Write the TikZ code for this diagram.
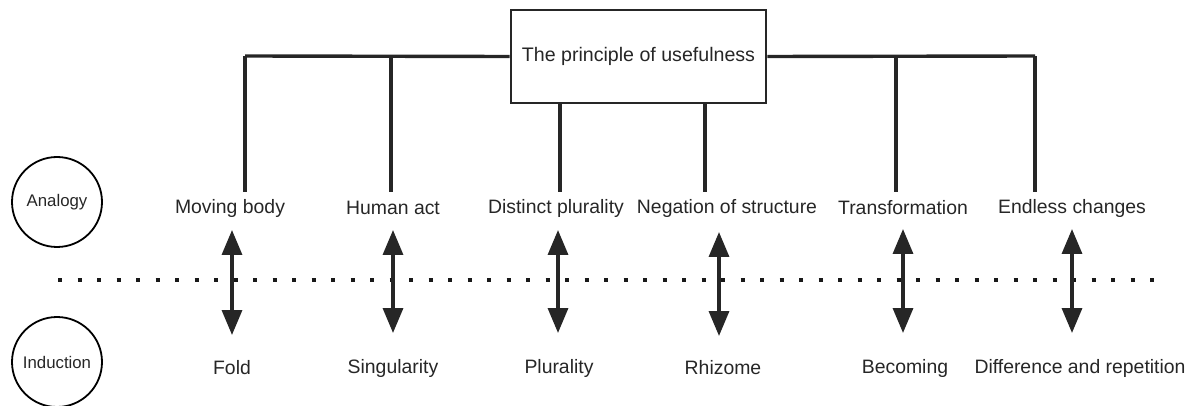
\documentclass[tikz,border=0pt]{standalone}
\usepackage{fontspec}
\setmainfont{Liberation Sans}
\usetikzlibrary{arrows.meta}
\begin{document}
\begin{tikzpicture}[x=1pt,y=-1pt,
  lbl/.style={font=\fontsize{19.4}{23}\selectfont, inner sep=0pt, text=black!85},
  circ/.style={draw, circle, line width=1.8pt, minimum size=90pt, inner sep=0pt, font=\fontsize{16.8}{20}\selectfont, text=black!85},
  conn/.style={line width=3.4pt, draw=black!85},
  dbl/.style={line width=3.4pt, draw=black!85, {Triangle[width=20pt,length=25pt]}-{Triangle[width=20pt,length=25pt]}},
  dots/.style={line width=4pt, dash pattern=on 4pt off 15.5pt, draw=black!90}]
\useasboundingbox (0,0) rectangle (1197,406);
% central box
\node[draw, line width=2.8pt, draw=black!85, minimum width=255pt, minimum height=93pt, inner sep=0pt,
      font=\fontsize{19.6}{23}\selectfont, text=black!85] (top) at (638.5,56.5) {The principle of usefulness};
% circles
\node[circ] (ana) at (57,202) {Analogy};
\node[circ] (ind) at (57,362) {Induction};
% top labels
\node[lbl] (a1) at (230,208) {Moving body};
\node[lbl] (a2) at (393,208) {Human act};
\node[lbl] (a3) at (556,208) {Distinct plurality};
\node[lbl] (a4) at (727,208) {Negation of structure};
\node[lbl] (a5) at (903,208) {Transformation};
\node[lbl] (a6) at (1072,208) {Endless changes};
% bottom labels
\node[lbl] (b1) at (232,368) {Fold};
\node[lbl] (b2) at (393,368) {Singularity};
\node[lbl] (b3) at (559,368) {Plurality};
\node[lbl] (b4) at (723,368) {Rhizome};
\node[lbl] (b5) at (905,368) {Becoming};
\node[lbl] (b6) at (1080,368) {Difference and repetition};
% tree connectors
\coordinate (h1) at (245,56);
\coordinate (h2) at (391,56);
\coordinate (h5) at (896,56);
\coordinate (h6) at (1035,56);
\draw[conn] (h1) -- (top.west);
\draw[conn] (top.east) -- (h6);
\draw[conn] (h1) -- (245,192);
\draw[conn] (h2) -- (391,192);
\draw[conn] (560,103) -- (560,192);
\draw[conn] (705,103) -- (705,192);
\draw[conn] (h5) -- (896,192);
\draw[conn] (h6) -- (1035,192);
% dotted separator
\coordinate (d1) at (58,280);
\coordinate (d2) at (1155,280);
\draw[dots] (d1) -- (d2);
% double arrows
\draw[dbl] (232,230) -- (232,335);
\draw[dbl] (393,230) -- (393,333);
\draw[dbl] (558,230) -- (558,333);
\draw[dbl] (719,232) -- (719,336);
\draw[dbl] (903,229) -- (903,333);
\draw[dbl] (1072,229) -- (1072,333);
\end{tikzpicture}
\end{document}
